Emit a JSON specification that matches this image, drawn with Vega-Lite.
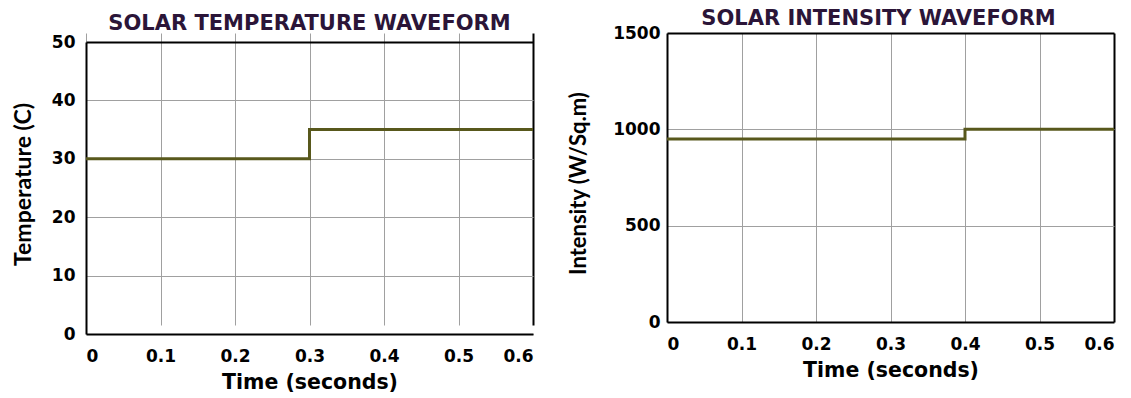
{
  "$schema": "https://vega.github.io/schema/vega-lite/v6.json",
  "background": "white",
  "padding": {"left": 12, "top": 7, "right": 5, "bottom": 5},
  "spacing": 134,
  "bounds": "flush",
  "config": {
    "view": {"stroke": null},
    "axis": {
      "labelFont": "DejaVu Sans",
      "labelFontWeight": "bold",
      "labelFontSize": 17,
      "labelColor": "#000",
      "ticks": false,
      "tickSize": 0,
      "domainColor": "#000",
      "domainWidth": 2,
      "gridOpacity": 1,
      "titleColor": "#000"
    },
    "axisX": {"titleFont": "DejaVu Sans", "titleFontSize": 20.5, "titleFontWeight": "bold", "labelPadding": 14, "titlePadding": 8},
    "axisY": {"titleFont": "Lato", "titleFontWeight": "bold"},
    "title": {"font": "DejaVu Sans", "fontSize": 21, "fontWeight": "bold", "color": "#2b1538", "anchor": "middle", "frame": "group"}
  },
  "datasets": {
    "temperature": [
      {"time": 0, "value": 30},
      {"time": 0.3, "value": 35},
      {"time": 0.6, "value": 35}
    ],
    "intensity": [
      {"time": 0, "value": 950},
      {"time": 0.4, "value": 1000},
      {"time": 0.6, "value": 1000}
    ]
  },
  "hconcat": [
    {
      "width": 447,
      "height": 301,
      "title": {"text": "SOLAR TEMPERATURE WAVEFORM", "offset": -1},
      "data": {"name": "temperature"},
      "mark": {"type": "line", "interpolate": "step-after", "color": "#58581c", "strokeWidth": 3},
      "encoding": {
        "x": {
          "field": "time", "type": "quantitative",
          "scale": {"domain": [0, 0.6], "nice": false, "zero": false},
          "axis": {
            "title": "Time (seconds)",
            "values": [0, 0.1, 0.2, 0.3, 0.4, 0.5, 0.6],
            "format": "~g",
            "gridColor": {"condition": {"test": "datum.value > 0.59", "value": "#000"}, "value": "#a0a0a0"},
            "gridWidth": {"condition": {"test": "datum.value > 0.59", "value": 2}, "value": 1}
          }
        },
        "y": {
          "field": "value", "type": "quantitative",
          "scale": {"domain": [0, 50], "nice": false, "range": [301, 9]},
          "axis": {
            "title": "Temperature (C)",
            "titleFontSize": 23,
            "titleY": 151,
            "values": [0, 10, 20, 30, 40, 50],
            "labelPadding": 11,
            "titlePadding": 16,
            "gridColor": {"condition": {"test": "datum.value > 49", "value": "#000"}, "value": "#a0a0a0"},
            "gridWidth": {"condition": {"test": "datum.value > 49", "value": 2}, "value": 1}
          }
        }
      }
    },
    {
      "width": 447,
      "height": 289,
      "title": {"text": "SOLAR INTENSITY WAVEFORM", "offset": -4.5, "dx": -12},
      "data": {"name": "intensity"},
      "mark": {"type": "line", "interpolate": "step-after", "color": "#58581c", "strokeWidth": 3},
      "encoding": {
        "x": {
          "field": "time", "type": "quantitative",
          "scale": {"domain": [0, 0.6], "nice": false, "zero": false},
          "axis": {
            "title": "Time (seconds)",
            "values": [0, 0.1, 0.2, 0.3, 0.4, 0.5, 0.6],
            "format": "~g",
            "gridColor": {"condition": {"test": "datum.value > 0.59", "value": "#000"}, "value": "#a0a0a0"},
            "gridWidth": {"condition": {"test": "datum.value > 0.59", "value": 2}, "value": 1}
          }
        },
        "y": {
          "field": "value", "type": "quantitative",
          "scale": {"domain": [0, 1500], "nice": false},
          "axis": {
            "title": "Intensity (W/Sq.m)",
            "titleFontSize": 22,
            "titleY": 150,
            "values": [0, 500, 1000, 1500],
            "format": "d",
            "labelPadding": 7,
            "titlePadding": 22,
            "gridColor": {"condition": {"test": "datum.value > 1490", "value": "#000"}, "value": "#a0a0a0"},
            "gridWidth": {"condition": {"test": "datum.value > 1490", "value": 2}, "value": 1}
          }
        }
      }
    }
  ]
}
